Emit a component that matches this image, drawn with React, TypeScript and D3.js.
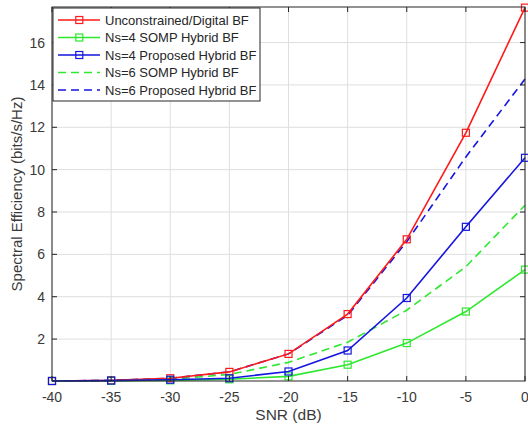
import React from "react";
import * as d3 from "d3";

const snr = [-40, -35, -30, -25, -20, -15, -10, -5, 0];
const digitalBF = [0.02, 0.05, 0.15, 0.45, 1.3, 3.18, 6.71, 11.74, 17.65];
const ns4Somp = [0.02, 0.03, 0.05, 0.1, 0.24, 0.79, 1.81, 3.3, 5.28];
const ns4Proposed = [0.02, 0.04, 0.08, 0.15, 0.47, 1.46, 3.94, 7.3, 10.56];
const ns6Somp = [0.02, 0.04, 0.1, 0.33, 0.9, 1.85, 3.36, 5.42, 8.32];
const ns6Proposed = [0.02, 0.05, 0.15, 0.45, 1.3, 3.12, 6.6, 10.6, 14.28];
const xTicks = [-40, -35, -30, -25, -20, -15, -10, -5, 0];
const yTicks = [2, 4, 6, 8, 10, 12, 14, 16];
const seriesNames = [
  "Unconstrained/Digital BF",
  "Ns=4 SOMP Hybrid BF",
  "Ns=4 Proposed Hybrid BF",
  "Ns=6 SOMP Hybrid BF",
  "Ns=6 Proposed Hybrid BF",
];

const RED = "#ff1a1a";
const GREEN = "#2ee82e";
const BLUE = "#1515e0";

const series = [
  { name: seriesNames[0], values: digitalBF, color: RED, dashed: false, marker: true },
  { name: seriesNames[1], values: ns4Somp, color: GREEN, dashed: false, marker: true },
  { name: seriesNames[2], values: ns4Proposed, color: BLUE, dashed: false, marker: true },
  { name: seriesNames[3], values: ns6Somp, color: GREEN, dashed: true, marker: false },
  { name: seriesNames[4], values: ns6Proposed, color: BLUE, dashed: true, marker: false },
];

const W = 528;
const H = 432;
const M = { left: 52, right: 3, top: 7, bottom: 51 };
const FONT = "'Liberation Sans', Arial, sans-serif";
const TXT = "#3a3a3a";

export default function App() {
  const x = d3.scaleLinear().domain([-40, 0]).range([M.left, W - M.right]);
  const y = d3.scaleLinear().domain([0.02, 17.68]).range([H - M.bottom, M.top]);
  const x0 = M.left, x1 = W - M.right, y0 = H - M.bottom, y1 = M.top;
  const line = d3
    .line<number>()
    .x((_, i) => x(snr[i]))
    .y((v) => y(v));
  const ms = 7;
  const drawOrder = [3, 4, 0, 1, 2];
  return (
    <svg
      width={W}
      height={H}
      style={{ position: "absolute", left: 0, top: 0, background: "#fff" }}
      fontFamily={FONT}
    >
      <rect x={0} y={0} width={W} height={H} fill="#fff" />
      {xTicks.map((t) => (
        <line key={"gx" + t} x1={x(t)} x2={x(t)} y1={y1} y2={y0} stroke="#dedede" strokeWidth={1} />
      ))}
      {yTicks.map((t) => (
        <line key={"gy" + t} x1={x0} x2={x1} y1={y(t)} y2={y(t)} stroke="#dedede" strokeWidth={1} />
      ))}
      {drawOrder.map((k) => {
        const s = series[k];
        return (
          <g key={s.name}>
            <path
              d={line(s.values) || ""}
              fill="none"
              stroke={s.color}
              strokeWidth={1.6}
              strokeDasharray={s.dashed ? "8,5" : undefined}
            />
            {s.marker &&
              s.values.map((v, i) => (
                <rect
                  key={i}
                  x={x(snr[i]) - ms / 2}
                  y={y(v) - ms / 2}
                  width={ms}
                  height={ms}
                  fill="none"
                  stroke={s.color}
                  strokeWidth={1.2}
                />
              ))}
          </g>
        );
      })}
      <rect x={x0} y={y1} width={x1 - x0} height={y0 - y1} fill="none" stroke="#262626" strokeWidth={1} />
      {xTicks.map((t) => (
        <g key={"tx" + t}>
          <line x1={x(t)} x2={x(t)} y1={y0} y2={y0 - 5} stroke="#262626" />
          <line x1={x(t)} x2={x(t)} y1={y1} y2={y1 + 5} stroke="#262626" />
          <text x={x(t)} y={y0 + 21} textAnchor="middle" fontSize={14} fill={TXT}>
            {t}
          </text>
        </g>
      ))}
      {yTicks.map((t) => (
        <g key={"ty" + t}>
          <line x1={x0} x2={x0 + 5} y1={y(t)} y2={y(t)} stroke="#262626" />
          <line x1={x1} x2={x1 - 5} y1={y(t)} y2={y(t)} stroke="#262626" />
          <text x={x0 - 7} y={y(t) + 5} textAnchor="end" fontSize={14} fill={TXT}>
            {t}
          </text>
        </g>
      ))}
      <text x={(x0 + x1) / 2} y={y0 + 39} textAnchor="middle" fontSize={15.5} fill={TXT}>
        SNR (dB)
      </text>
      <text
        transform={`translate(22,${(y0 + y1) / 2}) rotate(-90)`}
        textAnchor="middle"
        fontSize={15}
        fill={TXT}
      >
        Spectral Efficiency (bits/s/Hz)
      </text>
      <g>
        <rect x={x0 + 1} y={y1 + 1} width={207} height={93} fill="#fff" stroke="#262626" strokeWidth={1} />
        {series.map((s, i) => {
          const ly = 20 + i * 17.5;
          return (
            <g key={"lg" + i}>
              <line
                x1={58}
                x2={100}
                y1={ly}
                y2={ly}
                stroke={s.color}
                strokeWidth={1.6}
                strokeDasharray={s.dashed ? "8,5" : undefined}
              />
              {s.marker && (
                <rect x={79.3 - ms / 2} y={ly - ms / 2} width={ms} height={ms} fill="none" stroke={s.color} strokeWidth={1.2} />
              )}
              <text x={105} y={ly + 4.5} fontSize={13} fill="#262626">
                {s.name}
              </text>
            </g>
          );
        })}
      </g>
    </svg>
  );
}
